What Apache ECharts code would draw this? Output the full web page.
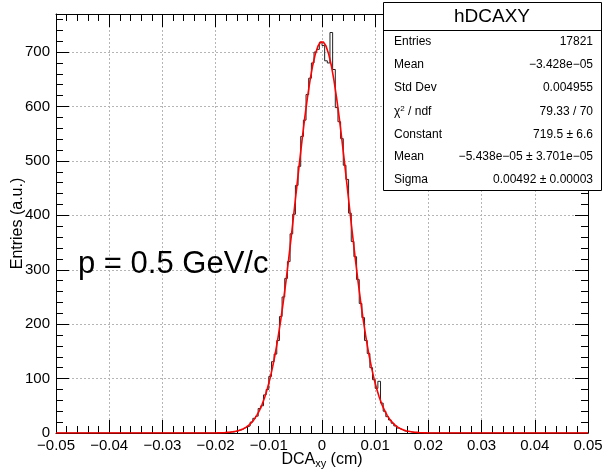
<!DOCTYPE html>
<html lang="en">
<head>
<meta charset="utf-8">
<title>hDCAXY</title>
<script src="https://cdn.jsdelivr.net/npm/echarts@6/dist/echarts.min.js"></script>
<style>
  html, body { margin: 0; padding: 0; background: #fff; }
  #main { width: 604px; height: 472px; }
</style>
</head>
<body>
<div id="main"></div>
<script>
// histogram binning (cm)
var binLow = -0.02;
var binWidth = 0.0005;

// bin contents, bins from -0.020 to +0.020
var counts = [
  0, 0, 0, 1, 1, 2, 2, 3, 5, 6,
  9, 11, 13, 20, 27, 31, 45, 50, 70, 80,
  104, 131, 145, 170, 214, 250, 284, 315, 366, 402,
  455, 490, 545, 575, 622, 652, 680, 700, 705, 718,
  712, 684, 680, 736, 668, 598, 572, 541, 492, 466,
  404, 352, 324, 282, 238, 212, 170, 146, 120, 98,
  82, 95, 55, 40, 30, 24, 18, 13, 9, 7,
  4, 3, 3, 2, 1, 1, 0, 1, 0, 0
];

// gaus fit curve, sampled at the bin centres
var fitVals = [
  0.2, 0.3, 0.5, 0.7, 1.1, 1.5, 2.2, 3.1, 4.3, 5.9,
  8.0, 10.8, 14.5, 19.1, 25.0, 32.4, 41.5, 52.6, 66.1, 82.1,
  100.9, 122.8, 147.9, 176.3, 208.0, 242.8, 280.6, 320.9, 363.4, 407.1,
  451.4, 495.4, 538.1, 578.5, 615.5, 648.1, 675.4, 696.6, 711.2, 718.6,
  718.6, 711.2, 696.6, 675.4, 648.1, 615.5, 578.5, 538.1, 495.4, 451.4,
  407.1, 363.4, 320.9, 280.6, 242.8, 208.0, 176.3, 147.9, 122.8, 100.9,
  82.1, 66.1, 52.6, 41.5, 32.4, 25.0, 19.1, 14.5, 10.8, 8.0,
  5.9, 4.3, 3.1, 2.2, 1.5, 1.1, 0.7, 0.5, 0.3, 0.2
];

// stats box
var statNames = ['Entries', 'Mean', 'Std Dev', '{a|χ}{s|2}{a| / ndf}', 'Constant', 'Mean', 'Sigma'];
var statValues = ['17821', '−3.428e−05', '0.004955', '79.33 / 70', '719.5 ± 6.6',
                  '−5.438e−05 ± 3.701e−05', '0.00492 ± 0.00003'];

var xMin = -0.05, xMax = 0.05;

// step line for the histogram
var histData = [[xMin, 0]];
for (var i = 0; i < counts.length; i++) {
  histData.push([binLow + i * binWidth, counts[i]]);
}
histData.push([binLow + counts.length * binWidth, 0]);
histData.push([xMax, 0]);

var fitData = [[xMin, 0]];
for (var j = 0; j < fitVals.length; j++) {
  fitData.push([binLow + (j + 0.5) * binWidth, fitVals[j]]);
}
fitData.push([xMax, 0]);

var FONT = 'Liberation Sans, Arial, sans-serif';

function xLabel(v) {
  if (Math.abs(v) < 1e-9) return '0';
  return v.toFixed(2).replace('-', '−');
}

var tickStyle = { color: '#000', width: 1 };

function xAx(pos, showLabels) {
  return {
    type: 'value', position: pos, min: xMin, max: xMax, interval: 0.01,
    axisLine: { show: true, onZero: false, lineStyle: tickStyle },
    axisTick: { show: true, inside: true, length: 13, lineStyle: tickStyle },
    minorTick: { show: true, splitNumber: 5, length: 7, lineStyle: tickStyle },
    splitLine: { show: showLabels, lineStyle: { color: '#b5b5b5', type: [2, 2], width: 1 } },
    axisLabel: { show: showLabels, formatter: xLabel, color: '#000', fontSize: 15,
                 fontFamily: FONT, margin: 5 },
    name: showLabels ? '{a|DCA}{s|xy}{a| (cm)}' : '',
    nameLocation: 'middle', nameGap: 17, nameMoveOverlap: false,
    nameTextStyle: {
      rich: {
        a: { fontSize: 16, fontFamily: FONT, color: '#000' },
        s: { fontSize: 11, fontFamily: FONT, color: '#000', verticalAlign: 'bottom', padding: [8, 0, 0, 0] }
      }
    }
  };
}

function yAx(pos, showLabels) {
  return {
    type: 'value', position: pos, min: 0, max: 770, interval: 100,
    axisLine: { show: true, onZero: false, lineStyle: tickStyle },
    axisTick: { show: true, inside: true, length: 13, lineStyle: tickStyle },
    minorTick: { show: true, splitNumber: 5, length: 7, lineStyle: tickStyle },
    splitLine: { show: showLabels, lineStyle: { color: '#b5b5b5', type: [2, 2], width: 1 } },
    axisLabel: {
      show: showLabels, color: '#000', fontSize: 15, fontFamily: FONT, margin: 6,
      showMaxLabel: false,
      formatter: function (v) { return v % 100 === 0 ? String(v) : ''; }
    },
    name: showLabels ? 'Entries (a.u.)' : '',
    nameLocation: 'middle', nameGap: 30, nameMoveOverlap: false,
    nameTextStyle: { fontSize: 16, fontFamily: FONT, color: '#000' }
  };
}

var rowY = [42, 64.5, 88, 111.5, 135, 157, 180];
var statGraphics = [
  { type: 'rect', z: 100, shape: { x: 383.5, y: 2.5, width: 218, height: 188 },
    style: { fill: '#fff', stroke: '#000', lineWidth: 1 } },
  { type: 'line', z: 101, shape: { x1: 383.5, y1: 30.5, x2: 601.5, y2: 30.5 },
    style: { stroke: '#000', lineWidth: 1 } },
  { type: 'text', z: 101, x: 492, y: 17,
    style: { text: 'hDCAXY', font: '19px ' + FONT, fill: '#000', textAlign: 'center', textVerticalAlign: 'middle' } },
  { type: 'text', z: 101, x: 78, y: 264,
    style: { text: 'p = 0.5 GeV/c', font: '31px ' + FONT, fill: '#000', textAlign: 'left', textVerticalAlign: 'middle' } }
];
for (var k = 0; k < statNames.length; k++) {
  statGraphics.push({
    type: 'text', z: 101, x: 394, y: rowY[k],
    style: {
      text: statNames[k], font: '12px ' + FONT, fill: '#000', textAlign: 'left', textVerticalAlign: 'middle',
      rich: {
        a: { fontSize: 12, fontFamily: FONT, fill: '#000' },
        s: { fontSize: 8, fontFamily: FONT, fill: '#000', verticalAlign: 'top', padding: [0, 0, 6, 0] }
      }
    }
  });
  statGraphics.push({
    type: 'text', z: 101, x: 593, y: rowY[k],
    style: { text: statValues[k], font: '12px ' + FONT, fill: '#000', textAlign: 'right', textVerticalAlign: 'middle' }
  });
}

var myChart = echarts.init(document.getElementById('main'), null, { renderer: 'canvas' });

var option = {
  backgroundColor: '#fff',
  animation: false,
  grid: { left: 56, right: 16, top: 14, bottom: 39, show: false,
          containLabel: false, outerBoundsMode: 'none' },
  xAxis: [xAx('bottom', true), xAx('top', false)],
  yAxis: [yAx('left', true), yAx('right', false)],
  series: [
    {
      name: 'hDCAXY', type: 'line', step: 'end', data: histData, showSymbol: false,
      lineStyle: { color: '#222', width: 1 }, z: 3
    },
    {
      name: 'gaus', type: 'line', data: fitData, showSymbol: false, smooth: false,
      lineStyle: { color: '#ff0000', width: 1.6 }, z: 4
    }
  ],
  graphic: statGraphics
};

myChart.setOption(option);
</script>
</body>
</html>
